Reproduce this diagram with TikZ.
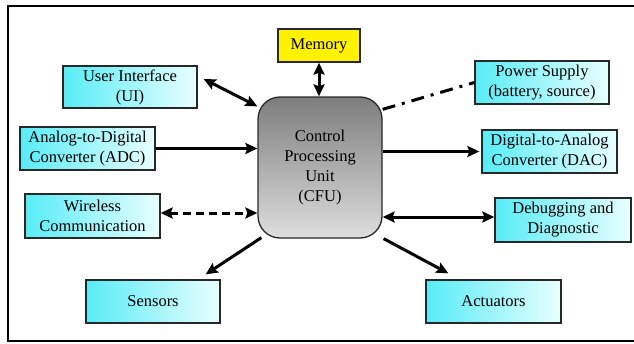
\documentclass[tikz,border=0pt]{standalone}
\usepackage{fontspec}
\setmainfont{Liberation Serif}
\usetikzlibrary{arrows.meta,calc}

\definecolor{boxA}{RGB}{88,236,246}
\definecolor{boxB}{RGB}{232,255,255}
\definecolor{cpuA}{RGB}{125,125,125}
\definecolor{cpuB}{RGB}{222,222,222}
\definecolor{edge}{RGB}{40,40,40}

\tikzset{
  txt/.style={font=\fontsize{16.5}{20}\selectfont},
  unit/.style={txt, draw=edge, line width=1.3pt, left color=boxA, right color=boxB,
    inner sep=0pt, align=center},
  cpubox/.style={txt, draw=edge, line width=1.3pt, rounded corners=22pt,
    top color=cpuA, bottom color=cpuB, inner sep=0pt, align=center,
    minimum width=124pt, minimum height=141pt},
  membox/.style={txt, draw=edge, line width=1.3pt, fill=yellow, inner sep=0pt,
    minimum width=82pt, minimum height=33pt},
  link/.style={line width=3pt, draw=black},
  tip/.tip={Stealth[length=12pt,width=11pt,inset=2pt]},
  oneway/.style={link, -tip},
  twoway/.style={link, tip-tip},
}

\begin{document}
\begin{tikzpicture}[x=1pt, y=-1pt]
\useasboundingbox (0,0) rectangle (634,343);
\clip (0,0) rectangle (634,343);
\fill[white] (0,0) rectangle (634,343);

% outer frame (open on the right)
\draw[line width=2.6pt] (645,6) -- (8,6) -- (8,341) -- (645,341);

% central unit
\node[cpubox] (cpu) at (320,167.5) {Control\\Processing\\Unit\\(CFU)};

% peripheral blocks
\node[membox] (mem) at (319,45.5) {Memory};
\node[unit, minimum width=134pt, minimum height=42pt] (ui)  at (130,87)    {User Interface\\(UI)};
\node[unit, minimum width=135pt, minimum height=43pt] (adc) at (87.5,148.5) {Analog-to-Digital\\Converter (ADC)};
\node[unit, minimum width=135pt, minimum height=44pt] (wir) at (92.5,216)  {Wireless\\Communication};
\node[unit, minimum width=134pt, minimum height=43pt] (sen) at (153,301.5) {Sensors};
\node[unit, minimum width=134pt, minimum height=43pt] (pow) at (542,82.5)  {Power Supply\\(battery, source)};
\node[unit, minimum width=135pt, minimum height=43pt] (dac) at (549.5,151.5) {Digital-to-Analog\\Converter (DAC)};
\node[unit, minimum width=136pt, minimum height=44pt] (dbg) at (563,220)   {Debugging and\\Diagnostic};
\node[unit, minimum width=135pt, minimum height=43pt] (act) at (493.5,301.5) {Actuators};

% connectors
\draw[twoway] ($(ui.east)+(6,-8)$) -- ($(cpu.north west)+(0,10)$);
\draw[oneway] (adc.east) -- (adc.east -| cpu.west);
\draw[twoway] (mem.south) -- (mem.south |- cpu.north);
\draw[link, dash pattern=on 13pt off 7pt on 3pt off 7pt] ($(cpu.north east)+(0,13)$) -- (pow.west);
\draw[oneway] (dac.west -| cpu.east) -- ($(dac.west)+(-2,0)$);
\draw[twoway, dash pattern=on 8pt off 5pt] ($(wir.east)+(0,-3)$) -- ($(wir.east -| cpu.west)+(0,-3)$);
\draw[twoway] ($(dbg.west -| cpu.east)+(0,-3)$) -- ($(dbg.west)+(0,-3)$);
\draw[oneway] ($(cpu.south west)+(4,-1)$) -- ($(sen.north east)+(-15,-5)$);
\draw[oneway] ($(cpu.south east)+(1,0)$) -- ($(act.north west)+(23,-6)$);
\end{tikzpicture}
\end{document}
